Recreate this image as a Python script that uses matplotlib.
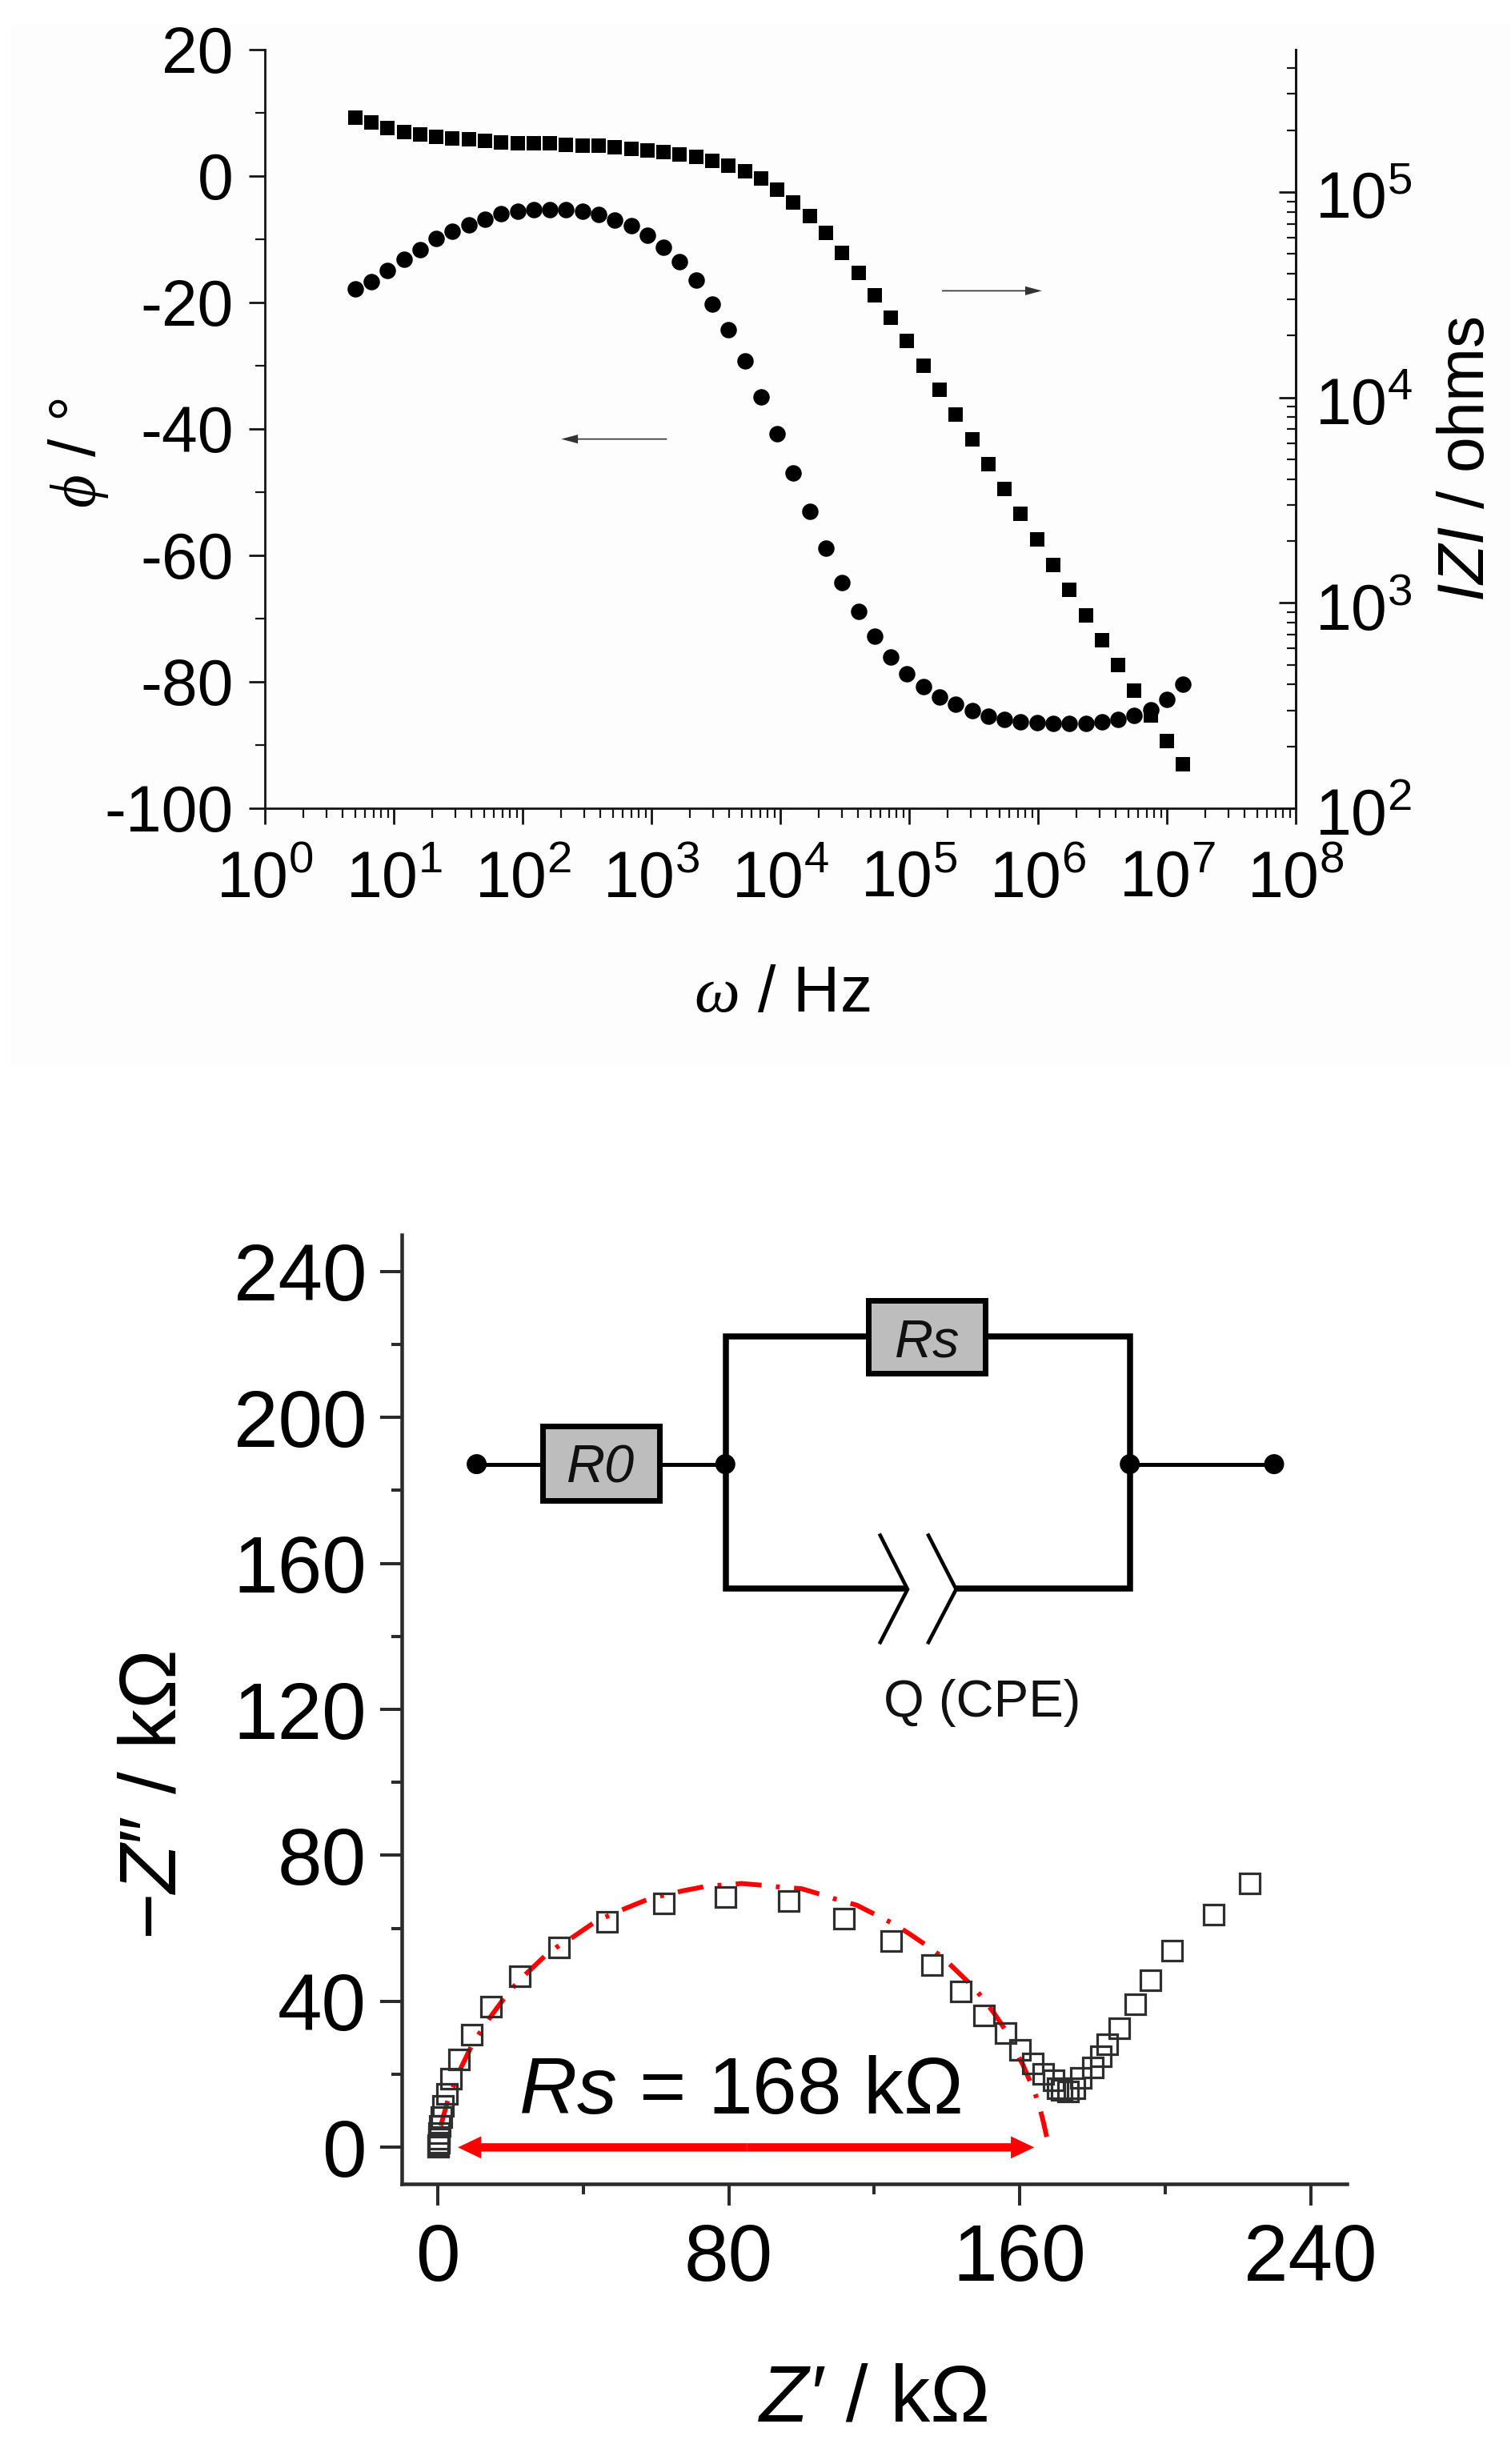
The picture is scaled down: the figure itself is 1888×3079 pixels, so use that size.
import matplotlib
matplotlib.use("Agg")
import matplotlib.pyplot as plt
from matplotlib.patches import Rectangle, Circle, FancyArrowPatch
from matplotlib.ticker import FixedLocator, NullFormatter, LogLocator
from matplotlib.transforms import ScaledTranslation

plt.rcParams['font.family'] = ['Liberation Sans', 'DejaVu Sans']
plt.rcParams['mathtext.fontset'] = 'custom'
plt.rcParams['mathtext.rm'] = 'Liberation Sans'
plt.rcParams['mathtext.it'] = 'Liberation Sans:italic'
plt.rcParams['mathtext.bf'] = 'Liberation Sans:bold'
plt.rcParams['mathtext.cal'] = 'Liberation Serif:italic'

W, H = 1888, 3079
DPI = 100
PX = 72 / DPI

# ---- Bode data ----
log_freq = [0.700,0.826,0.952,1.078,1.204,1.330,1.456,1.582,1.708,1.834,1.960,2.086,2.212,
            2.338,2.464,2.590,2.716,2.842,2.968,3.094,3.220,3.346,3.472,3.598,3.724,3.850,
            3.976,4.102,4.228,4.354,4.480,4.606,4.732,4.858,4.984,5.110,5.236,5.362,5.488,
            5.614,5.740,5.866,5.992,6.118,6.244,6.370,6.496,6.622,6.748,6.874,7.000,7.126]
phase = [-17.9,-16.7,-14.9,-13.2,-11.6,-9.9,-8.7,-7.7,-6.8,-6.0,-5.6,-5.3,-5.3,-5.3,-5.6,
         -6.1,-6.9,-7.9,-9.4,-11.3,-13.6,-16.5,-20.2,-24.3,-29.3,-34.9,-40.7,-46.9,-53.0,
         -58.9,-64.3,-68.9,-72.8,-76.1,-78.7,-80.8,-82.4,-83.6,-84.6,-85.4,-85.9,-86.3,
         -86.5,-86.6,-86.6,-86.6,-86.3,-85.9,-85.3,-84.4,-82.8,-80.4]
log_z = [5.360,5.338,5.310,5.293,5.281,5.270,5.261,5.256,5.248,5.241,5.238,5.236,5.236,
         5.231,5.226,5.226,5.216,5.209,5.201,5.194,5.184,5.169,5.151,5.129,5.099,5.065,
         5.012,4.950,4.881,4.799,4.705,4.605,4.498,4.387,4.273,4.156,4.037,3.916,3.794,
         3.675,3.553,3.432,3.307,3.186,3.062,2.940,2.819,2.697,2.573,2.451,2.327,2.216]

phase_ticks = [20, 0, -20, -40, -60, -80, -100]
phase_labels = ['20', '0', '-20', '-40', '-60', '-80', '-100']
phase_minor = [10, -10, -30, -50, -70, -90]
freq_ticks = [1e0, 1e1, 1e2, 1e3, 1e4, 1e5, 1e6, 1e7, 1e8]
freq_labels = [r'$\mathrm{10^{%d}}$' % i for i in range(9)]
z_ticks = [1e2, 1e3, 1e4, 1e5]
z_labels = [r'$\mathrm{10^{%d}}$' % i for i in (2, 3, 4, 5)]

# ---- Nyquist data (kOhm) ----
nyq_re = [0.0,0.05,0.1,0.15,0.25,0.4,0.85,1.4,2.4,3.6,5.7,9.3,14.6,22.4,33.1,46.4,62.0,79.0,
          96.3,111.5,124.6,135.7,143.6,150.1,156.0,160.0,163.4,166.3,169.2,170.3,171.5,
          173.2,174.9,176.6,180.0,182.3,184.0,187.3,191.6,195.8,201.7,213.2,223.1]
nyq_im = [0.2,0.7,1.5,2.6,4.0,5.9,8.4,11.4,14.7,18.9,24.2,31.0,38.7,47.0,55.0,62.0,66.9,68.6,
          67.5,62.8,56.7,50.1,42.8,36.3,31.4,26.8,23.1,20.2,18.4,16.2,15.8,
          15.4,16.2,19.1,22.0,25.0,28.4,32.8,39.3,46.0,54.1,63.8,72.5]
fit_re = [0.8,2.7,4.5,6.3,9.3,11.4,13.9,18.1,20.8,24.2,29.5,33.3,37.1,43.4,47.4,51.9,58.6,
          62.8,67.4,74.6,79.1,83.5,90.6,95.1,99.9,106.7,110.9,115.1,125.2,129.4,135.3,139.1,
          142.0,147.1,150.0,153.0,157.2,158.9,161.0,164.0,165.4,166.5,168.0]
fit_im = [5.9,12.8,17.3,21.7,27.9,31.2,35.0,40.7,44.0,47.5,52.5,55.3,57.6,61.9,63.7,65.6,68.3,
          69.2,70.3,71.7,71.9,72.3,71.7,71.2,70.9,68.9,67.5,66.4,61.3,58.7,54.7,51.8,
          49.0,44.1,40.7,36.7,30.5,26.4,22.4,15.4,11.4,7.0,0.4]
nyq_ticks = [0, 80, 160, 240]
nyq_minor_x = [40, 120, 200]
nyq_y_ticks = [0, 40, 80, 120, 160, 200, 240]
nyq_minor_y = [20, 60, 100, 140, 180, 220]


def axrect(l, t, r, b):
    return [l / W, 1 - b / H, (r - l) / W, (b - t) / H]


fig = plt.figure(figsize=(W / DPI, H / DPI), dpi=DPI, facecolor='white')

# pixel-space backdrop
bg = fig.add_axes([0, 0, 1, 1], zorder=0)
bg.set_xlim(0, W); bg.set_ylim(H, 0); bg.axis('off')
bg.add_patch(Rectangle((13, 30), 1875, 1302, fc='#FDFDFD', ec='none'))

# ---------- Bode panel ----------
ax1 = fig.add_axes(axrect(331, 62, 1619, 1010), zorder=1)
ax1.patch.set_alpha(0)
INK1 = '#151515'
ax1.set_xscale('log')
ax1.set_xlim(1, 1e8)
ax1.set_ylim(-100, 20)
ax1.spines['top'].set_visible(False)
for s in ('left', 'bottom', 'right'):
    ax1.spines[s].set_linewidth(2.8 * PX)
    ax1.spines[s].set_color(INK1)
ax1.xaxis.set_major_locator(FixedLocator(freq_ticks))
ax1.set_xticklabels(freq_labels)
ax1.xaxis.set_minor_locator(LogLocator(base=10, subs=range(2, 10), numticks=20))
ax1.xaxis.set_minor_formatter(NullFormatter())
ax1.set_yticks(phase_ticks)
ax1.set_yticklabels(phase_labels)
ax1.yaxis.set_minor_locator(FixedLocator(phase_minor))
ax1.tick_params(axis='both', which='major', length=20 * PX, width=2.8 * PX, color=INK1, labelsize=58)
ax1.tick_params(axis='both', which='minor', length=12 * PX, width=2.2 * PX, color=INK1)
ax1.tick_params(axis='y', which='major', pad=14)
ax1.tick_params(axis='x', which='major', pad=23)

ax1.plot([10 ** v for v in log_freq], phase, ls='none', marker='o', ms=20.5 * PX, mfc='black', mec='black', mew=0)

ax1r = ax1.twinx()
ax1r.patch.set_alpha(0)
ax1r.set_yscale('log')
ax1r.set_ylim(1e2, 4.93e5)
ax1r.spines['top'].set_visible(False)
ax1r.spines['left'].set_visible(False)
ax1r.spines['bottom'].set_visible(False)
ax1r.spines['right'].set_linewidth(2.8 * PX)
ax1r.spines['right'].set_color(INK1)
ax1r.yaxis.set_major_locator(FixedLocator(z_ticks))
ax1r.set_yticklabels(z_labels)
ax1r.yaxis.set_minor_locator(LogLocator(base=10, subs=range(2, 10), numticks=20))
ax1r.yaxis.set_minor_formatter(NullFormatter())
ax1r.tick_params(axis='y', which='major', direction='in', length=21 * PX, width=2.8 * PX, color=INK1, labelsize=58, pad=17)
ax1r.tick_params(axis='y', which='minor', direction='in', length=11 * PX, width=2.2 * PX, color=INK1)
ax1r.plot([10 ** v for v in log_freq], [10 ** v for v in log_z], ls='none', marker='s', ms=18.5 * PX, mfc='black', mec='black', mew=0)
shift = ScaledTranslation(0, -4 / DPI, fig.dpi_scale_trans)
for lab in ax1r.get_yticklabels():
    lab.set_transform(lab.get_transform() + shift)


def thin_arrow(ax, a, b):
    ax.add_patch(FancyArrowPatch(a, b, arrowstyle='simple,head_length=15,head_width=8,tail_width=1.2',
                                 mutation_scale=1, shrinkA=0, shrinkB=0, fc='#333333', ec='none', lw=0))


thin_arrow(ax1, (10 ** 3.12, -41.6), (10 ** 2.30, -41.6))
thin_arrow(ax1, (10 ** 5.255, -18.15), (10 ** 6.03, -18.15))

# ---------- Nyquist panel ----------
ax2 = fig.add_axes(axrect(501.7, 1543, 1683, 2729), zorder=2)
ax2.patch.set_alpha(0)
INK2 = '#2b2b2b'
ax2.set_xlim(-10, 250)
ax2.set_ylim(-10, 250)
ax2.spines['top'].set_visible(False)
ax2.spines['right'].set_visible(False)
for s in ('left', 'bottom'):
    ax2.spines[s].set_linewidth(4.5 * PX)
    ax2.spines[s].set_color(INK2)
ax2.set_xticks(nyq_ticks)
ax2.set_yticks(nyq_y_ticks)
ax2.xaxis.set_minor_locator(FixedLocator(nyq_minor_x))
ax2.yaxis.set_minor_locator(FixedLocator(nyq_minor_y))
ax2.tick_params(axis='both', which='major', length=27 * PX, width=4 * PX, color=INK2, labelsize=72)
ax2.tick_params(axis='both', which='minor', length=13 * PX, width=4 * PX, color=INK2)
ax2.tick_params(axis='y', which='major', pad=12)
ax2.tick_params(axis='x', which='major', pad=15)

ax2.plot(fit_re, fit_im, color='#FF0000', lw=6 * PX, ls=(0, (5.4, 3.0, 0.8, 3.0)), dash_capstyle='butt', zorder=3)
ax2.plot(nyq_re, nyq_im, ls='none', marker='s', ms=25 * PX, mfc='none', mec='#2e2e2e', mew=3.2 * PX, zorder=4)

arrow_y = 0.0
arrow_left, arrow_mid, arrow_right = 5.5, 85, 164
for end in (arrow_left, arrow_right):
    ax2.add_patch(FancyArrowPatch((arrow_mid, arrow_y), (end, arrow_y),
                                  arrowstyle='simple,head_length=21,head_width=20,tail_width=7.5',
                                  mutation_scale=1, shrinkA=0, shrinkB=0, fc='#FF0000', ec='none', lw=0, zorder=5))
ax2.text(22.2, 9.2, r'$Rs$ = 168 kΩ', fontsize=72, ha='left', va='baseline', color='black', zorder=6)

# ---------- pixel-space overlay: labels and the equivalent circuit ----------
ov = fig.add_axes([0, 0, 1, 1], zorder=5)
ov.set_xlim(0, W); ov.set_ylim(H, 0); ov.axis('off')
ov.patch.set_alpha(0)

ov.text(977, 1243, r'$\mathcal{\omega}$ / Hz', fontsize=58, ha='center', va='center')
ov.text(98, 566, r'$\mathcal{\phi}$ / °', fontsize=58, ha='center', va='center', rotation=90)
ov.text(1833, 574, r'$IZI$ / ohms', fontsize=58, ha='center', va='center', rotation=90)
ov.text(1029, 3000, 'Z\u2032', fontsize=72, ha='right', va='center', style='italic')
ov.text(1029, 3000, ' / kΩ', fontsize=72, ha='left', va='center')
ov.text(219, 2244, r'$-Z$' + '\u2033 / kΩ', fontsize=72, ha='center', va='baseline', rotation=90,
        rotation_mode='anchor')


def wire(xs, ys, w=7.5):
    ov.plot(xs, ys, color='black', lw=w * PX, solid_capstyle='butt', solid_joinstyle='miter')


wire([596, 677], [1829.6, 1829.6], 5)
wire([824, 906], [1829.6, 1829.6], 5)
wire([1411.7, 1592], [1829.6, 1829.6], 5)
wire([1085, 906.5, 906.5, 1134], [1670, 1670, 1984.6, 1984.6])
wire([1230, 1411.5, 1411.5, 1195], [1670, 1670, 1984.6, 1984.6])
wire([1098.8, 1134, 1098.8], [1916.5, 1986, 2054.3], 4.6)
wire([1159, 1194.7, 1159], [1916.5, 1986, 2054.3], 4.6)
for cx in (595.6, 906.3, 1411.7, 1592):
    ov.add_patch(Circle((cx, 1829.6), 12.5, fc='black', ec='none', zorder=4))
ov.add_patch(Rectangle((677.5, 1782), 146, 93, fc='#BDBDBD', ec='black', lw=7 * PX, zorder=3))
ov.add_patch(Rectangle((1084.5, 1625.3), 146, 91, fc='#BDBDBD', ec='black', lw=7 * PX, zorder=3))
ov.text(751, 1852.6, 'R0', fontsize=48, ha='center', va='baseline', style='italic', zorder=5, color='#111111')
ov.text(1159, 1695.7, 'Rs', fontsize=48, ha='center', va='baseline', style='italic', zorder=5, color='#111111')
ov.text(1227, 2145, 'Q (CPE)', fontsize=47, ha='center', va='baseline', color='#111111')

fig.savefig('out.png', dpi=DPI)
